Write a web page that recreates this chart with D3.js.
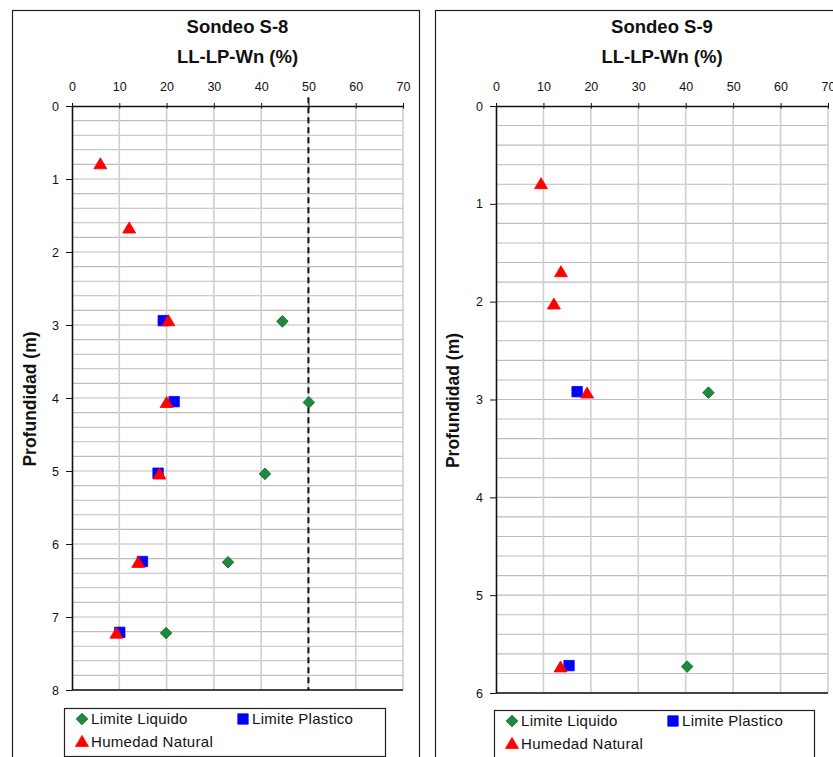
<!DOCTYPE html>
<html>
<head>
<meta charset="utf-8">
<script src="https://cdn.jsdelivr.net/npm/d3@7"></script>
<style>
  html, body { margin: 0; padding: 0; background: #fff; }
  svg { display: block; font-family: "Liberation Sans", Arial, sans-serif; }
</style>
</head>
<body>
<svg id="chart" width="833" height="757"></svg>
<script>
// Atterberg limits and natural moisture vs. depth, two boreholes
const xTicks = [0, 10, 20, 30, 40, 50, 60, 70];

// Sondeo S-8
const s8LLDepth = [2.95, 4.06, 5.04, 6.25, 7.22];
const s8LLValue = [44.5, 50.1, 40.8, 33.0, 19.9];
const s8LPDepth = [2.94, 4.05, 5.03, 6.24, 7.21];
const s8LPValue = [19.3, 21.6, 18.2, 14.9, 10.1];
const s8WnDepth = [0.80, 1.68, 2.95, 4.07, 5.05, 6.26, 7.23];
const s8WnValue = [6.0, 12.1, 20.4, 20.0, 18.5, 14.0, 9.4];
const s8RefLine = [50, 50];
const s8RefDepth = [-0.12, 8];
const s8DepthTicks = [0, 1, 2, 3, 4, 5, 6, 7, 8];

// Sondeo S-9
const s9LLDepth = [2.93, 5.73];
const s9LLValue = [44.8, 40.3];
const s9LPDepth = [2.92, 5.72];
const s9LPValue = [17.1, 15.4];
const s9WnDepth = [0.80, 1.70, 2.03, 2.94, 5.74];
const s9WnValue = [9.5, 13.7, 12.2, 19.2, 13.6];
const s9DepthTicks = [0, 1, 2, 3, 4, 5, 6];

const seriesNames = ["Limite Liquido", "Limite Plastico", "Humedad Natural"];

const svg = d3.select("#chart");

// marker shapes
function diamondPath(r) { return `M0,${-r}L${r},0L0,${r}L${-r},0Z`; }
function squarePath(h) { return `M${-h},${-h}H${h}V${h}H${-h}Z`; }
function trianglePath(w, h) { return `M0,${-h * 0.6}L${w / 2},${h * 0.4}L${-w / 2},${h * 0.4}Z`; }

const markerStyle = [
  { d: diamondPath(5.8), fill: "#1f8a3b", stroke: "#0d6426" },
  { d: squarePath(5.2), fill: "#0000ff", stroke: "#0000ff" },
  { d: trianglePath(13, 11), fill: "#ff0000", stroke: "#ff0000" }
];

function drawPanel(cfg) {
  const g = svg.append("g");

  // outer frame
  g.append("rect")
    .attr("x", cfg.frame[0] + 0.5).attr("y", cfg.frame[1] + 0.5)
    .attr("width", cfg.frame[2]).attr("height", cfg.frame[3])
    .attr("fill", "#fff").attr("stroke", "#222").attr("stroke-width", 1.2);

  const x = d3.scaleLinear().domain([0, 70]).range([cfg.left, cfg.right]);
  const y = d3.scaleLinear().domain([0, cfg.yMax]).range([cfg.top, cfg.bottom]);

  // horizontal grid every 0.2 m
  const hLines = d3.range(1, Math.round(cfg.yMax / 0.2) + 1).map(i => i * 0.2);
  g.append("g").selectAll("line").data(hLines).join("line")
    .attr("x1", cfg.left).attr("x2", cfg.right)
    .attr("y1", d => y(d)).attr("y2", d => y(d))
    .attr("stroke", "#bdbdbd").attr("stroke-width", 1.1);

  // vertical grid every 10 %
  g.append("g").selectAll("line").data(xTicks.slice(1)).join("line")
    .attr("x1", d => x(d)).attr("x2", d => x(d))
    .attr("y1", cfg.top).attr("y2", cfg.bottom)
    .attr("stroke", "#cfcfcf").attr("stroke-width", 1.6);

  // top axis
  const topAxis = g.append("g")
    .attr("transform", `translate(0,${cfg.top})`)
    .call(d3.axisTop(x).tickValues(xTicks).tickFormat(d3.format("d"))
      .tickSizeInner(3).tickSizeOuter(0).tickPadding(12));
  topAxis.select(".domain").attr("stroke", "#111").attr("stroke-width", 1.6);
  topAxis.selectAll(".tick line").attr("stroke", "#111").attr("y2", -3).attr("y1", 2.5);
  topAxis.selectAll(".tick text").attr("font-size", 12.5).attr("fill", "#111")
    .attr("font-family", "Liberation Sans, Arial, sans-serif");

  // depth axis
  const leftAxis = g.append("g")
    .attr("transform", `translate(${cfg.left},0)`)
    .call(d3.axisLeft(y).tickValues(cfg.depthTicks).tickFormat(d3.format("d"))
      .tickSizeInner(6).tickSizeOuter(0).tickPadding(7));
  leftAxis.select(".domain").attr("stroke", "#111").attr("stroke-width", 1.6);
  leftAxis.selectAll(".tick line").attr("stroke", "#111");
  leftAxis.selectAll(".tick text").attr("font-size", 12.5).attr("fill", "#111")
    .attr("font-family", "Liberation Sans, Arial, sans-serif");

  // bottom edge
  g.append("line")
    .attr("x1", cfg.left).attr("x2", cfg.right)
    .attr("y1", y(cfg.yMax)).attr("y2", y(cfg.yMax))
    .attr("stroke", "#111").attr("stroke-width", 1.6);

  // reference line
  if (cfg.ref) {
    g.append("path")
      .datum(d3.zip(cfg.ref.value, cfg.ref.depth))
      .attr("d", d3.line().x(d => x(d[0])).y(d => y(d[1])))
      .attr("fill", "none").attr("stroke", "#111")
      .attr("stroke-width", 2).attr("stroke-dasharray", "6,4");
  }

  // titles
  const cx = (cfg.left + cfg.right) / 2;
  g.append("text").attr("x", cx).attr("y", 33).attr("text-anchor", "middle")
    .attr("font-size", 18.5).attr("font-weight", "bold").attr("fill", "#111")
    .text(cfg.title);
  g.append("text").attr("x", cx).attr("y", 63).attr("text-anchor", "middle")
    .attr("font-size", 18.5).attr("font-weight", "bold").attr("fill", "#111")
    .text("LL-LP-Wn (%)");
  g.append("text")
    .attr("transform", `translate(${cfg.yTitleX},${(cfg.top + cfg.bottom) / 2 + 1}) rotate(-90)`)
    .attr("text-anchor", "middle").attr("dy", "0.35em")
    .attr("font-size", 17.5).attr("font-weight", "bold").attr("fill", "#111")
    .text("Profundidad (m)");

  // data points: liquid limit, plastic limit, natural moisture
  cfg.series.forEach((s, i) => {
    const pts = d3.zip(s.value, s.depth);
    g.append("g").selectAll("path").data(pts).join("path")
      .attr("transform", d => `translate(${x(d[0])},${y(d[1])})`)
      .attr("d", markerStyle[i].d)
      .attr("fill", markerStyle[i].fill)
      .attr("stroke", markerStyle[i].stroke).attr("stroke-width", 0.8);
  });

  // legend
  const lg = g.append("g");
  lg.append("rect")
    .attr("x", cfg.legend.x + 0.5).attr("y", cfg.legend.y + 0.5)
    .attr("width", cfg.legend.w).attr("height", cfg.legend.h)
    .attr("fill", "#fff").attr("stroke", "#222").attr("stroke-width", 1.2);
  const slots = [
    [cfg.legend.x + 18, cfg.legend.y + 11],
    [cfg.legend.x + 179, cfg.legend.y + 11],
    [cfg.legend.x + 18, cfg.legend.y + 34]
  ];
  seriesNames.forEach((name, i) => {
    const [mx, my] = slots[i];
    lg.append("path").attr("transform", `translate(${mx},${my})`)
      .attr("d", markerStyle[i].d)
      .attr("fill", markerStyle[i].fill).attr("stroke", markerStyle[i].stroke)
      .attr("stroke-width", 0.8);
    lg.append("text").attr("x", mx + 9).attr("y", my).attr("dy", "0.36em")
      .attr("font-size", 15).attr("letter-spacing", 0.3).attr("fill", "#111")
      .text(name);
  });
}

drawPanel({
  title: "Sondeo S-8",
  frame: [12, 10, 407, 800],
  left: 72, right: 403, top: 106, bottom: 690,
  yMax: 8, depthTicks: s8DepthTicks, yTitleX: 30,
  ref: { value: s8RefLine, depth: s8RefDepth },
  series: [
    { value: s8LLValue, depth: s8LLDepth },
    { value: s8LPValue, depth: s8LPDepth },
    { value: s8WnValue, depth: s8WnDepth }
  ],
  legend: { x: 64, y: 708, w: 321, h: 48 }
});

drawPanel({
  title: "Sondeo S-9",
  frame: [435, 10, 420, 800],
  left: 496, right: 828, top: 106, bottom: 693,
  yMax: 6, depthTicks: s9DepthTicks, yTitleX: 453,
  ref: null,
  series: [
    { value: s9LLValue, depth: s9LLDepth },
    { value: s9LPValue, depth: s9LPDepth },
    { value: s9WnValue, depth: s9WnDepth }
  ],
  legend: { x: 494, y: 710, w: 320, h: 52 }
});
</script>
</body>
</html>
